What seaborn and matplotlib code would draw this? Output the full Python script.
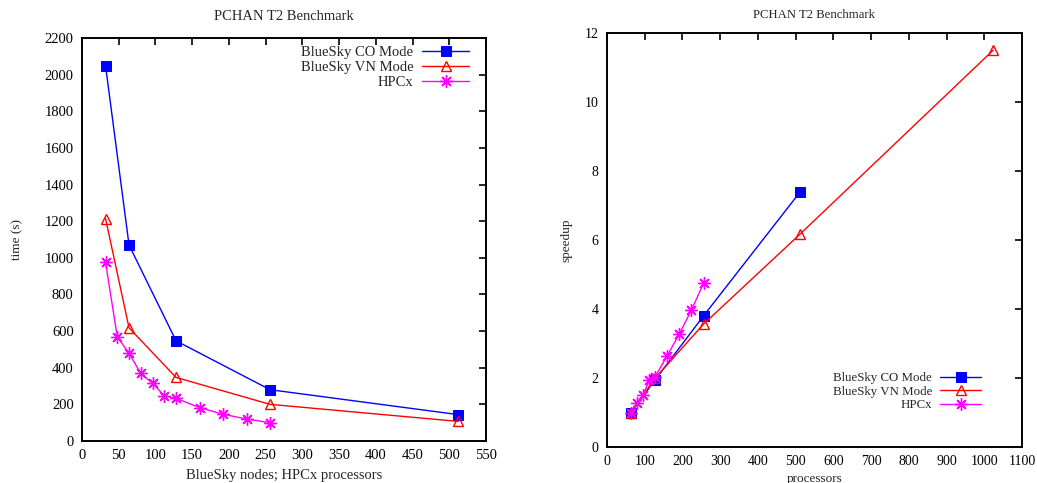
import matplotlib
matplotlib.use("Agg")
import matplotlib.pyplot as plt
import seaborn as sns
import pandas as pd

# ---- data ----
co_nodes = [32, 64, 128, 256, 512]
co_time = [2050, 1070, 547, 280, 144]
vn_nodes = [32, 64, 128, 256, 512]
vn_time = [1215, 618, 347, 200, 107]
hpcx_procs = [32, 48, 64, 80, 96, 112, 128, 160, 192, 224, 256]
hpcx_time = [975, 569, 479, 369, 315, 247, 233, 182, 146, 120, 100]

co_sp_procs = [64, 128, 256, 512]
co_speedup = [1.0, 1.95, 3.8, 7.39]
vn_sp_procs = [64, 128, 256, 512, 1024]
vn_speedup = [1.0, 2.0, 3.56, 6.17, 11.5]
hpcx_sp_procs = [64, 80, 96, 112, 128, 160, 192, 224, 256]
hpcx_speedup = [1.0, 1.28, 1.51, 1.94, 2.04, 2.65, 3.28, 3.97, 4.74]

labels = ["BlueSky CO Mode", "BlueSky VN Mode", "HPCx"]
title = "PCHAN T2 Benchmark"

sns.set_theme(style="white")
plt.rcParams["font.family"] = ["Liberation Serif", "DejaVu Serif"]
plt.rcParams["axes.edgecolor"] = "black"
plt.rcParams["axes.linewidth"] = 1.4

fig = plt.figure(figsize=(10.37, 4.83), dpi=100)
ax1 = fig.add_axes([0.0791, 0.087, 0.3896, 0.834])
ax2 = fig.add_axes([0.5853, 0.0745, 0.4002, 0.8575])

styles = [
    dict(color="#0000ff", marker="s", markersize=7, mfc="#0000ff", mec="#0000ff"),
    dict(color="#ff0000", marker="^", markersize=7, mfc="none", mec="#ff0000", mew=1.0),
    dict(color="#ff00ff", marker=(8, 2, 0), markersize=9, mec="#ff00ff", mew=1.0),
]


def draw(ax, xs, ys, legend_kw, fs_leg):
    for x, y, lab, st in zip(xs, ys, labels, styles):
        df = pd.DataFrame({"x": x, "y": y})
        sns.lineplot(data=df, x="x", y="y", ax=ax, label=lab, linewidth=1.0,
                     estimator=None, sort=False, **st)
    leg = ax.legend(markerfirst=False, frameon=False, fontsize=fs_leg,
                    handlelength=3.2, handletextpad=0.6, labelspacing=0.12,
                    **legend_kw)
    return leg


draw(ax1, [co_nodes, vn_nodes, hpcx_procs], [co_time, vn_time, hpcx_time],
     dict(loc="upper right", bbox_to_anchor=(0.99, 1.013)), 10.5)
draw(ax2, [co_sp_procs, vn_sp_procs, hpcx_sp_procs], [co_speedup, vn_speedup, hpcx_speedup],
     dict(loc="lower right", bbox_to_anchor=(0.93, 0.058)), 9.3)

ax1.set_xlim(0, 550)
ax1.set_ylim(0, 2200)
ax1.set_xticks(range(0, 551, 50))
ax1.set_yticks(range(0, 2201, 200))
ax1.set_title(title, fontsize=10.5, pad=13)
ax1.set_xlabel("BlueSky nodes; HPCx processors", fontsize=10.5, labelpad=5)
ax1.set_ylabel("time (s)", fontsize=9.5, labelpad=15)

ax2.set_xlim(0, 1100)
ax2.set_ylim(0, 12)
ax2.set_xticks(range(0, 1101, 100))
ax2.set_yticks(range(0, 13, 2))
ax2.set_title(title, fontsize=9.2, pad=11)
ax2.set_xlabel("processors", fontsize=9.5, labelpad=3)
ax2.set_ylabel("speedup", fontsize=9.5, labelpad=9)

for ax, fs in ((ax1, 10.5), (ax2, 10)):
    ax.tick_params(direction="in", length=5, width=1.2, top=True, right=True,
                   labelsize=fs, colors="black", pad=6)
    for s in ax.spines.values():
        s.set_visible(True)
        s.set_color("black")
        s.set_linewidth(1.4)

fig.savefig("out.png", dpi=100)
